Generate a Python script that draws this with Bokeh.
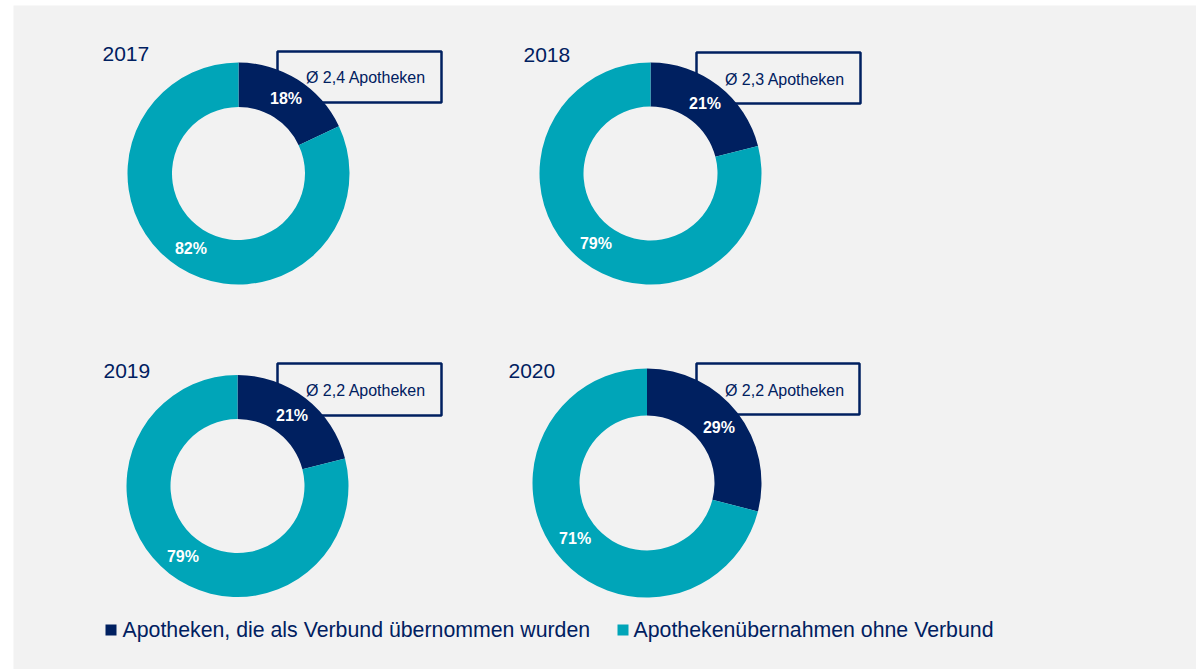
import numpy as np
from bokeh.plotting import figure
from bokeh.models import Range1d, ColumnDataSource
from bokeh.core.properties import value
from bokeh.embed import file_html
from bokeh.resources import INLINE

# ---- data ----
years = ["2017", "2018", "2019", "2020"]
verbund_pct = [18, 21, 21, 29]
ohne_pct = [82, 79, 79, 71]
avg_labels = ["Ø 2,4 Apotheken", "Ø 2,3 Apotheken", "Ø 2,2 Apotheken", "Ø 2,2 Apotheken"]
legend_labels = ["Apotheken, die als Verbund übernommen wurden", "Apothekenübernahmen ohne Verbund"]

# ---- style ----
NAVY = "#002060"
TEAL = "#00A5B8"
BG = "#F2F2F2"
FONT = "Liberation Sans"

# ---- layout (page pixel coordinates, y downwards) ----
H = 669
cx = [238, 650, 237, 646.5]
cy = [173, 173, 485.5, 482.5]
r_out = [111, 111, 111, 114.5]
r_in = [66.5, 67, 67, 67.5]
year_x = [102, 523, 103, 508]
year_mid = [53, 54.5, 370, 370]
box_l = [277, 696, 277, 696]
box_r = [441, 860, 441, 859]
box_t = [51, 52, 363, 363]
box_b = [102, 103, 415, 414]
box_tx = [365.5, 784.5, 365.5, 784.5]
box_ty = [77, 79, 390, 390]
leg_sq_x = [110.5, 622.5]
leg_tx = [122, 633]
leg_y = 629.5


def Y(v):
    return H - np.asarray(v, dtype=float)


p = figure(width=1196, height=669, x_range=Range1d(13, 1196), y_range=Range1d(0, 664),
           output_backend="svg", toolbar_location=None,
           min_border_left=13, min_border_right=0, min_border_top=5, min_border_bottom=0)
p.border_fill_color = "white"
p.background_fill_color = BG
p.outline_line_color = None
p.axis.visible = False
p.grid.visible = False

# boxes (drawn beneath the donuts)
p.quad(left=box_l, right=box_r, top=Y(box_t), bottom=Y(box_b),
       fill_color=None, line_color=NAVY, line_width=2.5)

# donuts
frac_v = np.array(verbund_pct) / 100.0
top = np.pi / 2
v_start = top - frac_v * 2 * np.pi
src_v = ColumnDataSource(dict(x=cx, y=Y(cy), ri=r_in, ro=r_out, s=v_start, e=[top] * 4))
src_o = ColumnDataSource(dict(x=cx, y=Y(cy), ri=r_in, ro=r_out, s=[top] * 4, e=v_start))
p.annular_wedge(x="x", y="y", inner_radius="ri", outer_radius="ro", start_angle="s", end_angle="e",
                source=src_v, fill_color=NAVY, line_color=None)
p.annular_wedge(x="x", y="y", inner_radius="ri", outer_radius="ro", start_angle="s", end_angle="e",
                source=src_o, fill_color=TEAL, line_color=None)

# percentage labels at ring middle
rm = (np.array(r_in) + np.array(r_out)) / 2
mid_v = top - frac_v * np.pi
mid_o = top - frac_v * 2 * np.pi - (1 - frac_v) * np.pi
lx = np.concatenate([np.array(cx) + rm * np.cos(mid_v), np.array(cx) + rm * np.cos(mid_o)])
ly = np.concatenate([Y(cy) + rm * np.sin(mid_v), Y(cy) + rm * np.sin(mid_o)])
ltxt = [f"{v}%" for v in verbund_pct] + [f"{v}%" for v in ohne_pct]
p.text(x=lx, y=ly, text=ltxt, text_color="white", text_font=value(FONT), text_font_style="bold",
       text_font_size="16px", text_align="center", text_baseline="middle")

# box texts
p.text(x=box_tx, y=Y(box_ty), text=avg_labels, text_color=NAVY, text_font=value(FONT),
       text_font_size="16px", text_align="center", text_baseline="middle")

# year titles
p.text(x=year_x, y=Y(year_mid), text=years, text_color=NAVY, text_font=value(FONT),
       text_font_size="21px", text_align="left", text_baseline="middle")

# legend
p.rect(x=leg_sq_x, y=Y([leg_y, leg_y]), width=11, height=11, fill_color=[NAVY, TEAL], line_color=None)
p.text(x=leg_tx, y=Y([leg_y, leg_y]), text=legend_labels, text_color=NAVY, text_font=value(FONT),
       text_font_size="21.3px", text_align="left", text_baseline="middle")

open("out.html", "w").write(file_html(p, INLINE))
